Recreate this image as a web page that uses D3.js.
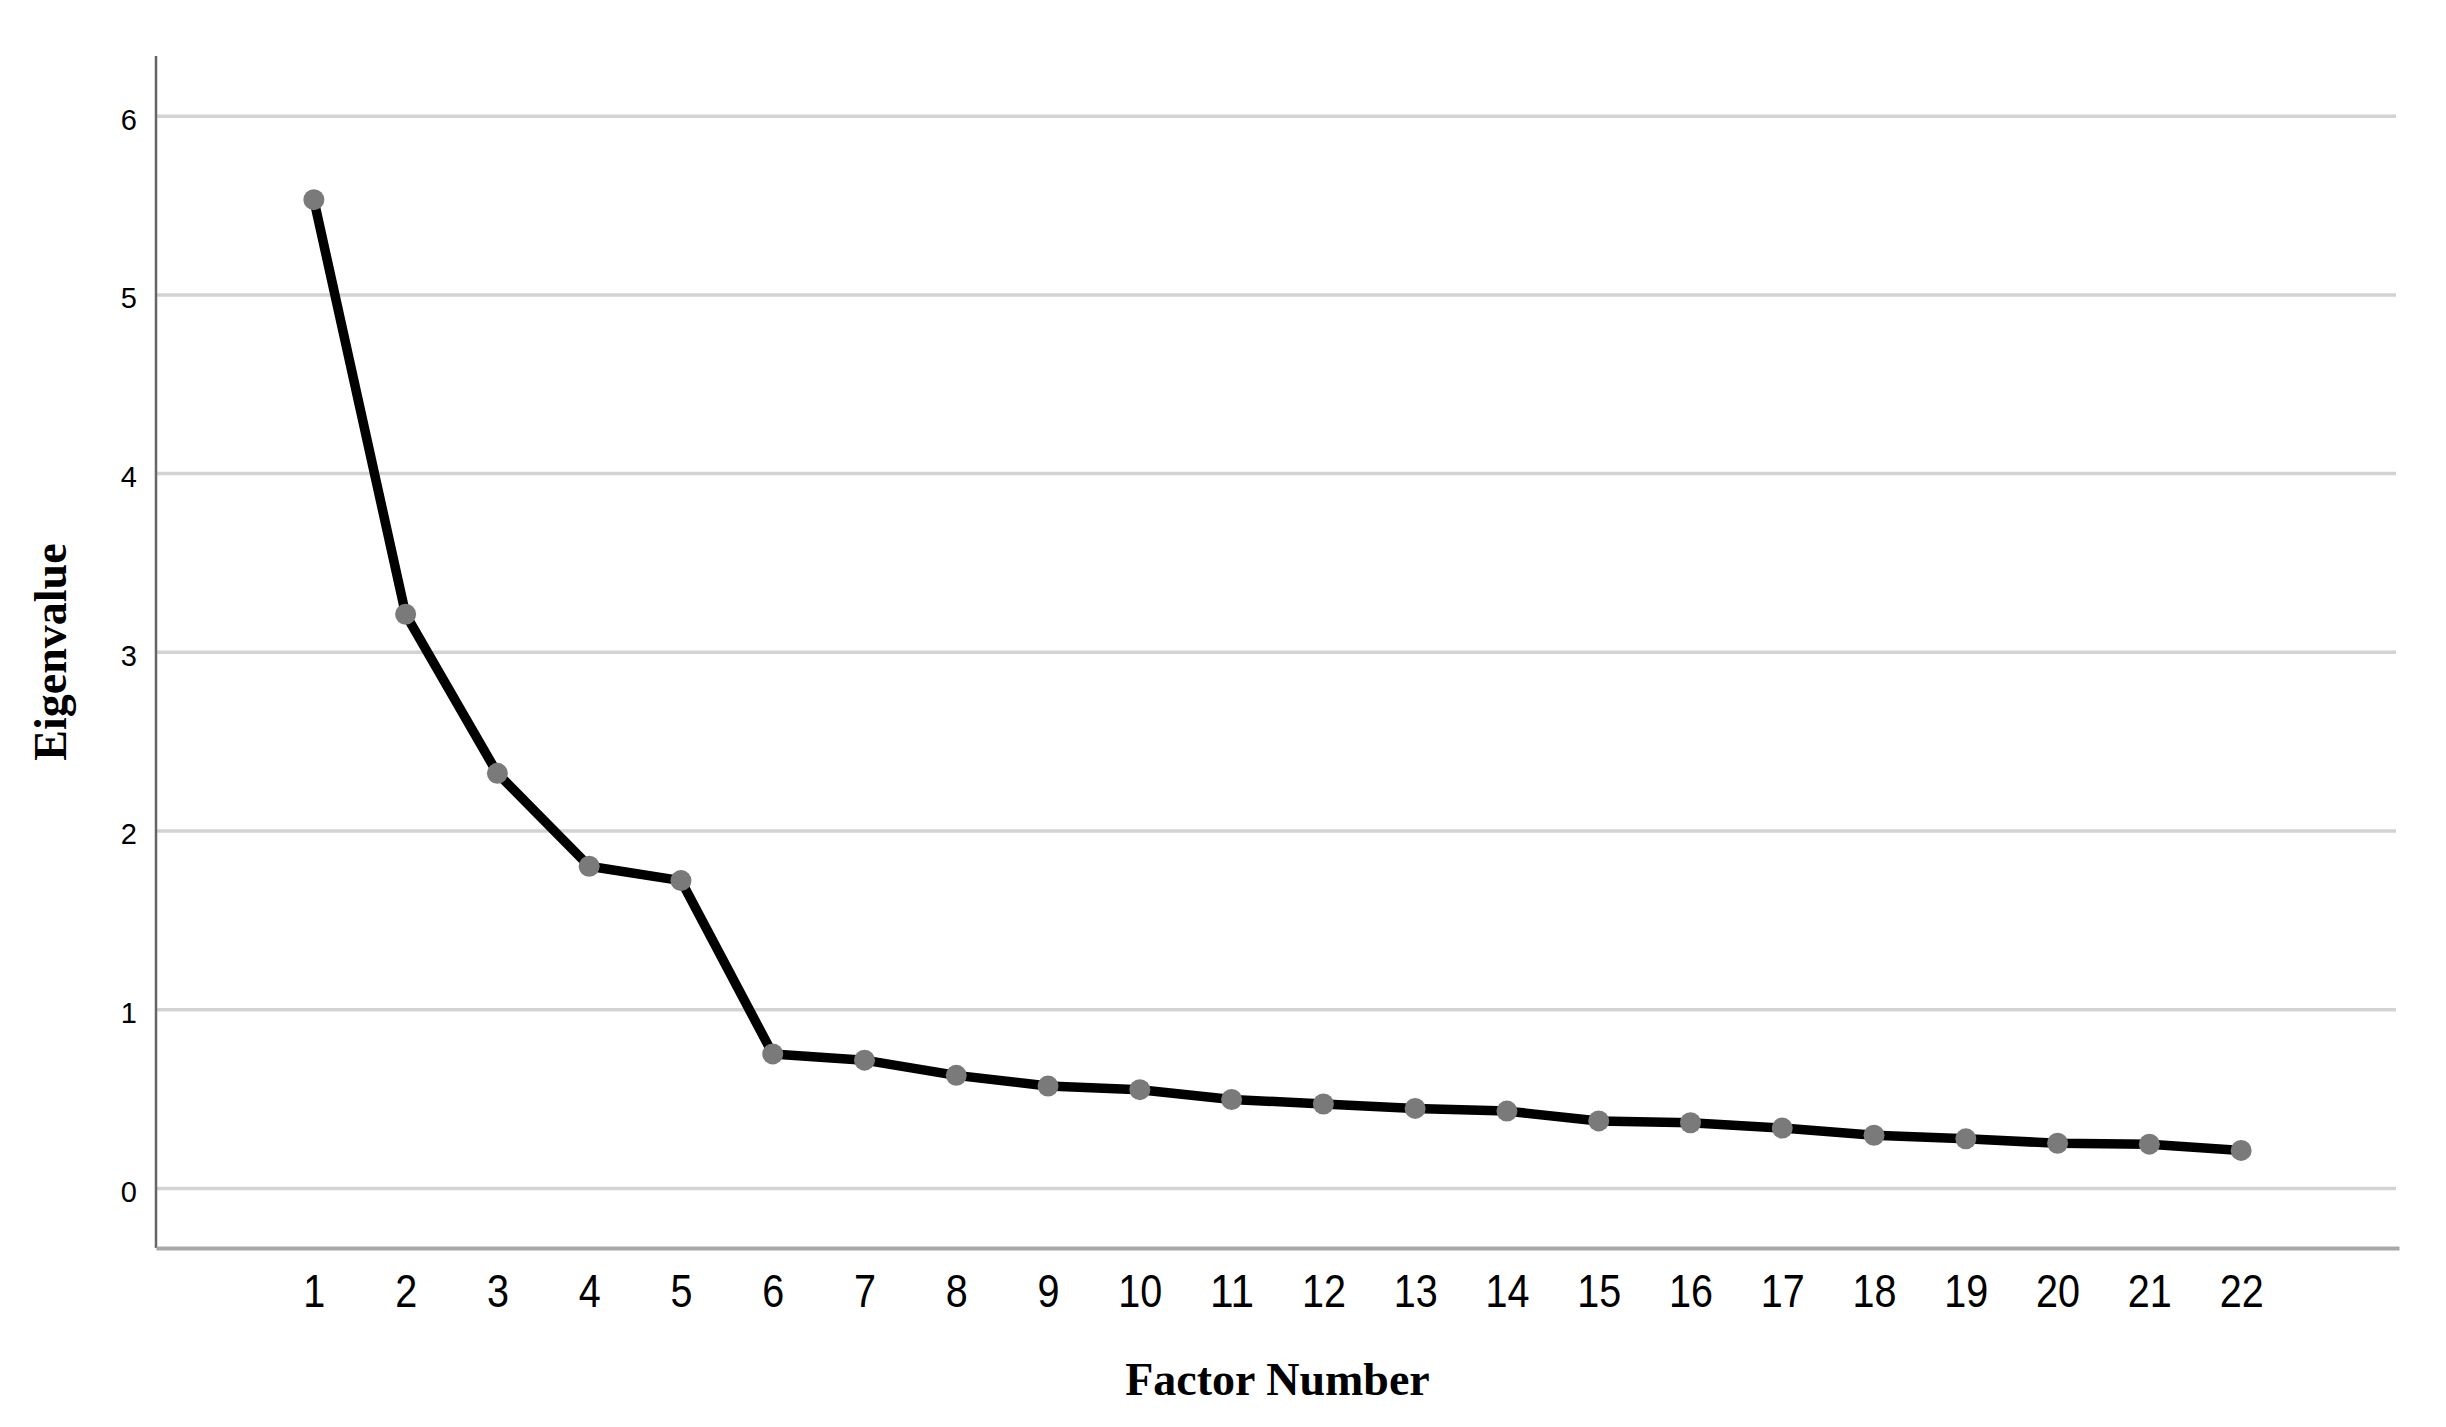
<!DOCTYPE html>
<html>
<head>
<meta charset="utf-8">
<script src="https://cdn.jsdelivr.net/npm/d3@7"></script>
<style>
  body { margin: 0; background: #fff; }
  .grid line { stroke: #d3d3d3; stroke-width: 3.5; }
  .y.axis text { font-family: "Liberation Sans", Arial, sans-serif; font-size: 29px; fill: #000; }
  .x.axis text { font-family: "Liberation Sans", Arial, sans-serif; font-size: 46px; fill: #000; }
  .title { font-family: "Palatino Linotype", "Book Antiqua", "Liberation Serif", serif; font-weight: bold; font-size: 46px; fill: #000; }
  .line { fill: none; stroke: #000; stroke-width: 9.5; stroke-linejoin: round; }
  .dot { fill: #7a7a7a; }
</style>
</head>
<body>
<div id="chart"></div>
<script>
// Scree plot data
var factors = [1, 2, 3, 4, 5, 6, 7, 8, 9, 10, 11, 12, 13, 14, 15, 16, 17, 18, 19, 20, 21, 22];
var eigenvalues = [5.53, 3.21, 2.32, 1.80, 1.72, 0.75, 0.715, 0.63, 0.57, 0.55, 0.495,
                   0.47, 0.445, 0.43, 0.375, 0.365, 0.335, 0.295, 0.275, 0.25, 0.245, 0.21];
var yTicks = [0, 1, 2, 3, 4, 5, 6];
var xTitle = "Factor Number";
var yTitle = "Eigenvalue";

function drawScree(){

    var W = 2446, H = 1427;
    var margin = {top: 56, right: 47, bottom: 179, left: 156},
    width = W - margin.left - margin.right,
    height = H - margin.top - margin.bottom;

    var x = d3.scaleLinear().domain([-0.72, 23.72]).range([0, width]);
    var y = d3.scaleLinear().domain([-0.336, 6.334]).range([height, 0]);

    var svg = d3.select("div#chart")
    .append("svg")
    .attr("width", W)
    .attr("height", H)
    .append("g")
    .attr("transform", "translate(" + margin.left + "," + margin.top + ")");

    // grid lines + y labels
    var yAxis = d3.axisLeft(y).tickValues(yTicks).tickFormat(d3.format("d"))
        .tickSize(-(width - 3)).tickSizeOuter(0).tickPadding(19);
    var gy = svg.append("g")
    .attr("class", "y axis grid")
    .call(yAxis);
    gy.select(".domain").remove();
    gy.selectAll("text").attr("dy", "0.46em");

    // y axis line
    svg.append("line")
    .attr("x1", 0).attr("x2", 0)
    .attr("y1", 0).attr("y2", height)
    .style("stroke", "#666").style("stroke-width", 2.5);

    // x axis (labels squeezed to the narrow look of the original)
    var xAxis = d3.axisBottom(x).tickValues(factors).tickSize(0).tickSizeOuter(0);
    var gx = svg.append("g")
    .attr("class", "x axis")
    .attr("transform", "translate(0," + height + ")")
    .call(xAxis);
    gx.select(".domain").style("stroke", "#a8a8a8").style("stroke-width", 4);
    gx.selectAll("text")
    .attr("y", 59).attr("dy", 0)
    .attr("textLength", function(d) { return String(d).length * 22; })
    .attr("lengthAdjust", "spacingAndGlyphs");

    // the line
    var valueline = d3.line()
    .x(function(d, i) { return x(factors[i]); })
    .y(function(d) { return y(d); });

    svg.append("path")
    .attr("class", "line")
    .attr("d", valueline(eigenvalues));

    svg.selectAll(".dot")
    .data(eigenvalues)
    .enter().append("circle")
    .attr("class", "dot")
    .attr("cx", function(d, i) { return x(factors[i]); })
    .attr("cy", function(d) { return y(d); })
    .attr("r", 10.5);

    // titles
    svg.append("text")
    .attr("class", "title")
    .attr("text-anchor", "middle")
    .attr("x", width / 2)
    .attr("y", height + 147)
    .text(xTitle);

    svg.append("text")
    .attr("class", "title")
    .attr("text-anchor", "middle")
    .attr("transform", "translate(" + (66 - margin.left) + "," + (height / 2) + ") rotate(-90)")
    .text(yTitle);
}

drawScree();
</script>
</body>
</html>
